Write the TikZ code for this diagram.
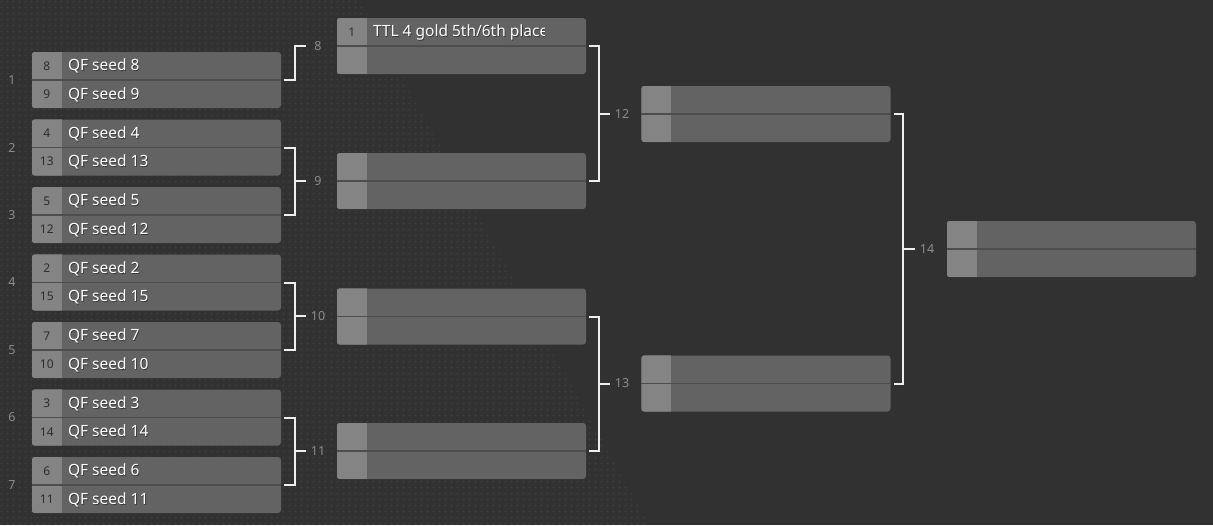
\documentclass[tikz,border=0pt]{standalone}
\usepackage{fontspec}
\setmainfont{Noto Sans}
\usetikzlibrary{patterns}
\definecolor{bg}{HTML}{313131}
\definecolor{dotc}{HTML}{404040}
\definecolor{boxc}{HTML}{636363}
\definecolor{seedc}{HTML}{848484}
\definecolor{sepc}{HTML}{4D4D4D}
\definecolor{seedtc}{HTML}{2C2C2C}
\definecolor{lblc}{HTML}{8C8C8C}
\definecolor{linec}{HTML}{EEEEEE}
\pgfdeclarepatternformonly{bgdots}{\pgfqpoint{0pt}{0pt}}{\pgfqpoint{6pt}{6pt}}{\pgfqpoint{6pt}{6pt}}{\pgfpathrectangle{\pgfqpoint{2pt}{2pt}}{\pgfqpoint{1.8pt}{1.8pt}}\pgfusepath{fill}}
\tikzset{
  matchbox/.style={rectangle, minimum width=249pt, minimum height=56pt, inner sep=0pt, rounded corners=3pt, fill=boxc},
  seedtxt/.style={font=\fontsize{12}{13}\selectfont, text=seedtc, inner sep=0pt},
  nametxt/.style={font=\fontsize{15.5}{17}\selectfont, text=white, inner sep=0pt, anchor=west},
  shadowtxt/.style={font=\fontsize{15.5}{17}\selectfont, text=black, opacity=0.45, inner sep=0pt, anchor=west},
  lbl/.style={font=\fontsize{12.5}{13}\selectfont, text=lblc, inner sep=0pt},
  conn/.style={draw=linec, line width=2pt},
  sepline/.style={draw=sepc, line width=1.5pt},
}
\newcommand{\bmatch}[7]{%
  \node[matchbox] (#1) at (#2,#3) {};
  \begin{scope}
    \clip[rounded corners=3pt] (#1.south west) rectangle (#1.north east);
    \fill[seedc] (#1.south west) rectangle ([xshift=30pt]#1.north west);
  \end{scope}
  \draw[sepline] (#1.west) -- (#1.east);
  \node[seedtxt] (#1s1) at ([xshift=15pt,yshift=-14pt]#1.north west) {#4};
  \node[seedtxt] (#1s2) at ([xshift=15pt,yshift=14pt]#1.south west) {#6};
  \begin{scope}
    \clip ([xshift=30pt]#1.south west) rectangle ([xshift=-42pt]#1.north east);
    \node[shadowtxt] at ([xshift=36.8pt,yshift=-15.4pt]#1.north west) {#5};
    \node[nametxt] (#1t1) at ([xshift=36pt,yshift=-14.5pt]#1.north west) {#5};
    \node[shadowtxt] at ([xshift=36.8pt,yshift=12.6pt]#1.south west) {#7};
    \node[nametxt] (#1t2) at ([xshift=36pt,yshift=13.5pt]#1.south west) {#7};
  \end{scope}
}
\begin{document}
\begin{tikzpicture}[x=1pt,y=-1pt]
\useasboundingbox (0,0) rectangle (1213,525);
\fill[bg] (0,0) rectangle (1213,525);
\fill[pattern=bgdots, pattern color=dotc] (0,0) -- (360,0) -- (649,525) -- (0,525) -- cycle;

% round 1
\bmatch{m1}{156.5}{80}{8}{QF seed 8}{9}{QF seed 9}
\bmatch{m2}{156.5}{147.5}{4}{QF seed 4}{13}{QF seed 13}
\bmatch{m3}{156.5}{215}{5}{QF seed 5}{12}{QF seed 12}
\bmatch{m4}{156.5}{282.5}{2}{QF seed 2}{15}{QF seed 15}
\bmatch{m5}{156.5}{350}{7}{QF seed 7}{10}{QF seed 10}
\bmatch{m6}{156.5}{417.5}{3}{QF seed 3}{14}{QF seed 14}
\bmatch{m7}{156.5}{485}{6}{QF seed 6}{11}{QF seed 11}
% round 2
\bmatch{m8}{461.5}{46}{1}{TTL 4 gold 5th/6th place}{}{}
\bmatch{m9}{461.5}{181}{}{}{}{}
\bmatch{m10}{461.5}{316.5}{}{}{}{}
\bmatch{m11}{461.5}{451}{}{}{}{}
% round 3
\bmatch{m12}{766}{114}{}{}{}{}
\bmatch{m13}{766}{383.5}{}{}{}{}
% round 4
\bmatch{m14}{1071.5}{249}{}{}{}{}

% match labels
\node[lbl] (l1) at (12,80) {1};
\node[lbl] (l2) at (12,147.5) {2};
\node[lbl] (l3) at (12,215) {3};
\node[lbl] (l4) at (12,282.5) {4};
\node[lbl] (l5) at (12,350) {5};
\node[lbl] (l6) at (12,417.5) {6};
\node[lbl] (l7) at (12,485) {7};
\node[lbl] (l8) at (318,46) {8};
\node[lbl] (l9) at (318,181) {9};
\node[lbl] (l10) at (318,316) {10};
\node[lbl] (l11) at (318,451) {11};
\node[lbl] (l12) at (622,114) {12};
\node[lbl] (l13) at (622,383.5) {13};
\node[lbl] (l14) at (927,249) {14};

% junctions
\coordinate (j8) at (295,46);
\coordinate (j9) at (295,181);
\coordinate (j10) at (295,316);
\coordinate (j11) at (295,451);
\coordinate (j12) at (599,114);
\coordinate (j13) at (599,383.5);
\coordinate (j14) at (903,249);

\draw[conn] ([xshift=3pt]m1.east) -| (j8) -- ([xshift=-8pt]l8.west);
\draw[conn] ([xshift=3pt]m2.east) -| (j9) |- ([xshift=3pt]m3.east);
\draw[conn] (j9) -- ([xshift=-8pt]l9.west);
\draw[conn] ([xshift=3pt]m4.east) -| (j10) |- ([xshift=3pt]m5.east);
\draw[conn] (j10) -- ([xshift=-5pt]l10.west);
\draw[conn] ([xshift=3pt]m6.east) -| (j11) |- ([xshift=3pt]m7.east);
\draw[conn] (j11) -- ([xshift=-5pt]l11.west);
\draw[conn] ([xshift=3pt]m8.east) -| (j12) |- ([xshift=3pt]m9.east);
\draw[conn] (j12) -- ([xshift=-5pt]l12.west);
\draw[conn] ([xshift=3pt]m10.east) -| (j13) |- ([xshift=3pt]m11.east);
\draw[conn] (j13) -- ([xshift=-5pt]l13.west);
\draw[conn] ([xshift=3pt]m12.east) -| (j14) |- ([xshift=3pt]m13.east);
\draw[conn] (j14) -- ([xshift=-5pt]l14.west);
\end{tikzpicture}
\end{document}
